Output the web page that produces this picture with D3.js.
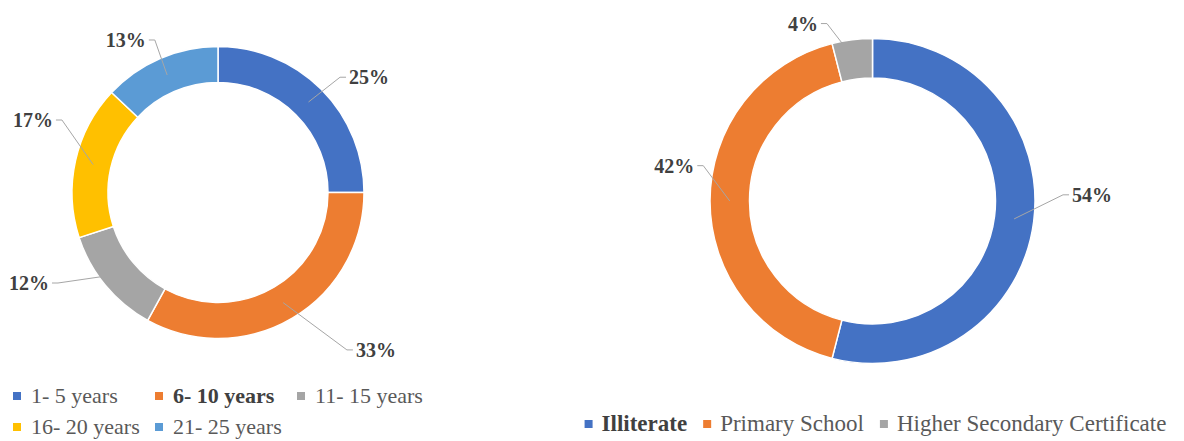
<!DOCTYPE html>
<html>
<head>
<meta charset="utf-8">
<script src="https://cdn.jsdelivr.net/npm/d3@7"></script>
<style>
  html, body { margin: 0; padding: 0; background: #ffffff; }
  svg { display: block; }
</style>
</head>
<body>
<svg id="chart" width="1184" height="441"></svg>
<script>
// Years of experience (left donut)
const ageCategories = ["1- 5 years", "6- 10 years", "11- 15 years", "16- 20 years", "21- 25 years"];
const ageShares = [25, 33, 12, 17, 13];

// Education level (right donut)
const eduCategories = ["Illiterate", "Primary School", "Higher Secondary Certificate"];
const eduShares = [54, 42, 4];

// Styling
const ageColors = ["#4472C4", "#ED7D31", "#A5A5A5", "#FFC000", "#5B9BD5"];
const eduColors = ["#4472C4", "#ED7D31", "#A5A5A5"];
const ageBold = [false, true, false, false, false];
const eduBold = [true, false, false];

// Label placement: angular nudge (deg) from the slice middle, and distance as a multiple of the outer radius
const ageLabelNudge = [3, -10, 11, 11.5, -1];
const ageLabelReach = [1.18, 1.42, 1.295, 1.216, 1.147];
const eduLabelNudge = [-9, 11.4, -9];
const eduLabelReach = [1.21, 1.10, 1.137];

const FONT = "'Liberation Serif', 'Times New Roman', serif";
const svg = d3.select("#chart");

function drawDonut(cfg) {
  const g = svg.append("g").attr("transform", `translate(${cfg.cx},${cfg.cy})`);
  const pie = d3.pie().sort(null).value(d => d)(cfg.values);
  const arc = d3.arc().innerRadius(cfg.inner).outerRadius(cfg.outer);

  g.selectAll("path.slice")
    .data(pie)
    .join("path")
    .attr("class", "slice")
    .attr("d", arc)
    .attr("fill", (d, i) => cfg.colors[i])
    .attr("stroke", "#ffffff")
    .attr("stroke-width", 1.5);

  // Leader lines and percentage labels
  pie.forEach((d, i) => {
    const c = arc.centroid(d);
    const mid = (d.startAngle + d.endAngle) / 2 + cfg.nudge[i] * Math.PI / 180;
    const r = cfg.outer * cfg.reach[i];
    const lx = Math.sin(mid) * r;
    const ly = -Math.cos(mid) * r;
    const right = Math.sin(mid) > 0;
    const elbowX = right ? lx - 6 : lx + 6;

    g.append("polyline")
      .attr("points", [[c[0], c[1]], [elbowX, ly], [lx, ly]].map(p => p.join(",")).join(" "))
      .attr("fill", "none")
      .attr("stroke", "#A6A6A6")
      .attr("stroke-width", 1);

    g.append("text")
      .attr("x", right ? lx + 3 : lx - 3)
      .attr("y", ly)
      .attr("dy", "0.35em")
      .attr("text-anchor", right ? "start" : "end")
      .attr("font-family", FONT)
      .attr("font-size", 20)
      .attr("font-weight", "bold")
      .attr("fill", "#404040")
      .text(d.data + "%");
  });
}

drawDonut({ cx: 218, cy: 192.5, outer: 146, inner: 110, values: ageShares, colors: ageColors,
            nudge: ageLabelNudge, reach: ageLabelReach });
drawDonut({ cx: 872.5, cy: 201, outer: 162.5, inner: 123, values: eduShares, colors: eduColors,
            nudge: eduLabelNudge, reach: eduLabelReach });

// Left legend: grid of three columns
const legA = svg.append("g").attr("font-family", FONT).attr("font-size", 22);
ageCategories.forEach((name, i) => {
  const col = i % 3, row = Math.floor(i / 3);
  const x = 13 + col * 142;
  const y = 396 + row * 31;
  legA.append("rect").attr("x", x).attr("y", y - 4).attr("width", 8).attr("height", 8).attr("fill", ageColors[i]);
  legA.append("text").attr("x", x + 18).attr("y", y).attr("dy", "0.3em")
    .attr("fill", ageBold[i] ? "#404040" : "#595959")
    .attr("font-weight", ageBold[i] ? "bold" : "normal")
    .text(name);
});

// Right legend: single centred row
const legB = svg.append("g").attr("font-family", FONT).attr("font-size", 23);
const items = eduCategories.map((name, i) => {
  const gi = legB.append("g");
  gi.append("rect").attr("x", 0).attr("y", -4).attr("width", 8).attr("height", 8).attr("fill", eduColors[i]);
  const t = gi.append("text").attr("x", 17).attr("y", 0).attr("dy", "0.3em")
    .attr("fill", eduBold[i] ? "#404040" : "#595959")
    .attr("font-weight", eduBold[i] ? "bold" : "normal")
    .text(name);
  return { gi, w: 17 + t.node().getComputedTextLength() };
});
const gap = 16;
const total = d3.sum(items, d => d.w) + gap * (items.length - 1);
let xPos = 875.5 - total / 2;
items.forEach(it => {
  it.gi.attr("transform", `translate(${xPos},424)`);
  xPos += it.w + gap;
});
</script>
</body>
</html>
